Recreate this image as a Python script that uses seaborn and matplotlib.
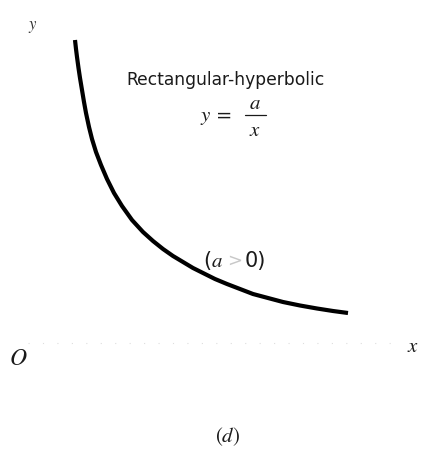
import matplotlib
matplotlib.use("Agg")
import matplotlib.pyplot as plt
import seaborn as sns

# Sample points along the rectangular hyperbola y = a/x (a > 0),
# in plot units measured from the origin O.
hyperbola_x = [45, 46, 47, 48.5, 50, 52, 54, 56, 59, 62, 66, 71, 77, 84, 92,
               102, 113, 123, 133, 143, 153, 163, 173, 185, 197, 210, 223,
               238, 253, 270, 287, 303, 318]
hyperbola_y = [303, 294, 286, 275, 265, 253, 241, 230, 216, 204, 191, 178,
               164, 150, 137, 123, 111, 102, 94, 87, 81, 75, 70, 64, 59, 54,
               49, 45, 41, 37.5, 34.5, 32, 30]

# Extent of the x axis
axis_x = [-2, 372]
axis_y = [0, 0]

title_text = "Rectangular-hyperbolic"
condition_parts = [r"($a$", ">", "0)"]
panel_text = r"$(d)$"

sns.set_style("white")
plt.rcParams["font.family"] = ["DejaVu Sans"]
plt.rcParams["mathtext.fontset"] = "stix"

fig = plt.figure(figsize=(4.28, 4.49), dpi=100)
ax = fig.add_axes([0, 0, 1, 1])
ax.set_xlim(-30, 398)
ax.set_ylim(-106, 343)
ax.axis("off")

# faint x axis
ax.plot(axis_x, axis_y, color="#dedede", lw=0.8, linestyle=(0, (1, 12)))

# the curve
sns.lineplot(x=hyperbola_x, y=hyperbola_y, sort=False, estimator=None,
             color="black", lw=3.0, ax=ax, solid_capstyle="butt",
             solid_joinstyle="round")

ink = "#1a1a1a"
ax.text(3, 317, r"$y$", fontsize=12, color="#333333", ha="center", va="center")
ax.text(-12, -15, r"$O$", fontsize=17, color=ink, ha="center", va="center")
ax.text(383, -3, r"$x$", fontsize=15, color=ink, ha="center", va="center")

ax.text(196, 263, title_text, fontsize=12.3, color=ink, ha="center", va="center")

# equation y = a / x
ax.text(186, 226, r"$y\;=$", fontsize=15, color=ink, ha="center", va="center")
ax.text(225, 240, r"$a$", fontsize=15, color=ink, ha="center", va="center")
ax.text(225, 213, r"$x$", fontsize=15, color=ink, ha="center", va="center")
ax.plot([215, 236], [228, 228], color=ink, lw=0.9)

# condition (a > 0)
ax.text(193, 82, condition_parts[0], fontsize=15, color=ink, ha="right", va="center")
ax.text(205, 82, condition_parts[1], fontsize=13, color="#c8c8c8", ha="center", va="center")
ax.text(215, 82, condition_parts[2], fontsize=15, color=ink, ha="left", va="center")

ax.text(198, -94, panel_text, fontsize=15, color=ink, ha="center", va="center")

fig.savefig("out.png", dpi=100)
